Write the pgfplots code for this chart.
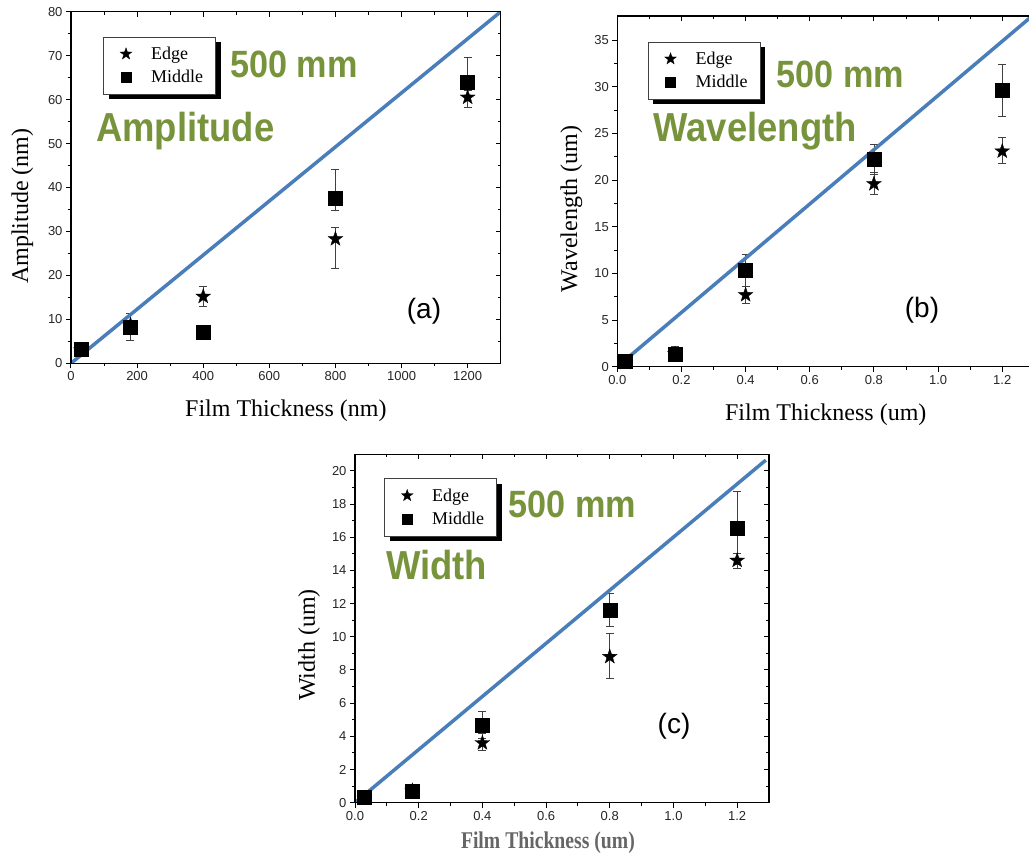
\documentclass[border=0pt]{standalone}
\usepackage{fontspec}
\setmainfont{Liberation Serif}
\setsansfont{Liberation Sans}
\newfontface\greenfont{Liberation Sans Bold}[FakeStretch=0.9]
\usepackage{pgfplots}
\pgfplotsset{compat=1.18}
\usepackage{pgfplotstable}
\usetikzlibrary{shadows,plotmarks}
\definecolor{olivegreen}{HTML}{77933C}
\definecolor{lineblue}{HTML}{4A7EBB}

\pgfdeclareplotmark{fstar}{%
  \pgfpathmoveto{\pgfpointpolar{90}{\pgfplotmarksize}}%
  \pgfpathlineto{\pgfpointpolar{126}{0.40*\pgfplotmarksize}}%
  \pgfpathlineto{\pgfpointpolar{162}{\pgfplotmarksize}}%
  \pgfpathlineto{\pgfpointpolar{198}{0.40*\pgfplotmarksize}}%
  \pgfpathlineto{\pgfpointpolar{234}{\pgfplotmarksize}}%
  \pgfpathlineto{\pgfpointpolar{270}{0.40*\pgfplotmarksize}}%
  \pgfpathlineto{\pgfpointpolar{306}{\pgfplotmarksize}}%
  \pgfpathlineto{\pgfpointpolar{342}{0.40*\pgfplotmarksize}}%
  \pgfpathlineto{\pgfpointpolar{18}{\pgfplotmarksize}}%
  \pgfpathlineto{\pgfpointpolar{54}{0.40*\pgfplotmarksize}}%
  \pgfpathclose
  \pgfusepathqfillstroke}

\newcommand\tickfont{\sffamily\fontsize{13pt}{15pt}\selectfont}
\newcommand\labelfont{\rmfamily\fontsize{24pt}{28pt}\selectfont}
\newcommand\legfont{\rmfamily\fontsize{18pt}{20pt}\selectfont}

\pgfplotstableread{
x y ep em
30 3.0 1.6 1.0
180 8.7 1.0 1.0
400 15.2 2.4 2.3
800 28.3 2.6 6.7
1200 60.5 1.5 2.2
}\aEdge
\pgfplotstableread{
x y ep em
30 3.2 1.0 1.0
180 8.2 3.2 3.0
400 7.0 0.5 0.5
800 37.5 6.6 2.8
1200 64.0 5.7 5.7
}\aMid
\pgfplotstableread{
x y ep em
0.025 0.43 0.3 0.3
0.18 1.36 0.8 0.6
0.4 7.7 0.9 0.9
0.8 19.6 1.2 1.1
1.2 23.1 1.5 1.3
}\bEdge
\pgfplotstableread{
x y ep em
0.025 0.54 0.3 0.3
0.18 1.3 0.5 0.5
0.4 10.3 1.7 1.7
0.8 22.2 1.6 1.6
1.2 29.6 2.8 2.8
}\bMid
\pgfplotstableread{
x y ep em
0.03 0.26 0.3 0.2
0.18 0.72 0.4 0.3
0.4 3.6 0.55 0.45
0.8 8.8 1.4 1.3
1.2 14.6 0.45 0.45
}\cEdge
\pgfplotstableread{
x y ep em
0.03 0.36 0.3 0.3
0.18 0.7 0.3 0.3
0.4 4.7 0.8 0.8
0.8 11.6 1.0 1.0
1.2 16.55 2.2 2.2
}\cMid

\pgfplotsset{
  panel/.style={scale only axis, anchor=south west,
    axis line style={line width=1.2pt, black},
    major tick length=5pt, minor tick length=3pt,
    every tick/.style={black, line width=1pt},
    every minor tick/.style={black, line width=0.9pt},
    minor x tick num=1, minor y tick num=1,
    tick label style={font=\tickfont, text=black!85},
    /pgf/number format/assume math mode=true,
    /pgf/number format/1000 sep={}},
  mainpanel/.style={panel, tick pos=left, tick align=outside,
    label style={font=\labelfont},
    legend cell align=left,
    legend style={anchor=north west, draw=black!75, line width=0.6pt, fill=white,
      font=\legfont, inner xsep=10.5pt, inner ysep=8pt, row sep=5.4pt,
      drop shadow={shadow xshift=5pt, shadow yshift=-5pt, fill=black, opacity=1},
      /tikz/every odd column/.append style={column sep=5pt}}},
  overpanel/.style={panel, tick pos=right, tick align=inside, xticklabels={}, yticklabels={}},
  decx/.style={xticklabel style={/pgf/number format/.cd, fixed, fixed zerofill, precision=1}},
  myleg/.style={legend image code/.code={%
      \pgfpathmoveto{\pgfqpoint{0pt}{0pt}}\pgfpathmoveto{\pgfqpoint{30pt}{0pt}}\pgfusepath{discard}%
      \draw[##1] plot coordinates {(12pt,0pt)};}},
  edge/.style={black, only marks, mark=fstar, mark size=7.8pt,
    mark options={fill=black, draw=black, line width=0.3pt},
    myleg, legend image post style={mark size=6.2pt},
    error bars/.cd, y dir=both, y explicit,
    error bar style={line width=0.8pt, black!75},
    error mark options={rotate=90, mark size=4pt, line width=0.8pt, black!75}},
  mid/.style={black, only marks, mark=square*, mark size=7pt,
    mark options={fill=black, draw=black},
    myleg, legend image post style={mark size=5pt},
    error bars/.cd, y dir=both, y explicit,
    error bar style={line width=0.8pt, black!75},
    error mark options={rotate=90, mark size=4pt, line width=0.8pt, black!75}},
  fitline/.style={lineblue, line width=3.5pt, no marks, forget plot},
}

\begin{document}
\begin{tikzpicture}
\useasboundingbox (0,0) rectangle (1029pt,860pt);
\clip (0,0) rectangle (1029pt,860pt);

% ---------- (a) ----------
\begin{axis}[mainpanel, at={(71pt,496.7pt)}, width=429.7pt, height=351.6pt,
  xmin=0, xmax=1300, ymin=0, ymax=80,
  xtick={0,200,...,1200}, ytick={0,10,...,80},
  xlabel={Film Thickness (nm)}, ylabel={Amplitude (nm)},
  xlabel style={at={(axis description cs:0.5,-0.134)}, anchor=center},
  ylabel style={at={(axis description cs:-0.113,0.447)}, anchor=center},
  legend style={at={(0.075,0.929)}}]
\addplot[edge] table[x=x,y=y,y error plus=ep,y error minus=em] {\aEdge};
\addlegendentry{Edge}
\addplot[mid] table[x=x,y=y,y error plus=ep,y error minus=em] {\aMid};
\addlegendentry{Middle}
\addplot[fitline] coordinates {(0,0) (1300,80)};
\end{axis}
\begin{axis}[overpanel, at={(71pt,496.7pt)}, width=429.7pt, height=351.6pt,
  xmin=0, xmax=1300, ymin=0, ymax=80,
  xtick={0,200,...,1200}, ytick={0,10,...,80}]
\end{axis}

% ---------- (b) ----------
\begin{axis}[mainpanel, decx, at={(617.3pt,493.3pt)}, width=417pt, height=350.7pt,
  xmin=0, xmax=1.3, ymin=0, ymax=37.6,
  xtick={0,0.2,...,1.21}, ytick={0,5,...,35},
  xlabel={Film Thickness (um)}, ylabel={Wavelength (um)},
  xlabel style={at={(axis description cs:0.5,-0.137)}, anchor=center},
  ylabel style={at={(axis description cs:-0.110,0.45)}, anchor=center},
  legend style={at={(0.073,0.927)}}]
\addplot[edge] table[x=x,y=y,y error plus=ep,y error minus=em] {\bEdge};
\addlegendentry{Edge}
\addplot[mid] table[x=x,y=y,y error plus=ep,y error minus=em] {\bMid};
\addlegendentry{Middle}
\addplot[fitline] coordinates {(0,0) (1.3,37.8)};
\end{axis}
\begin{axis}[overpanel, at={(617.3pt,493.3pt)}, width=417pt, height=350.7pt,
  xmin=0, xmax=1.3, ymin=0, ymax=37.6,
  xtick={0,0.2,...,1.21}, ytick={0,5,...,35}]
\end{axis}

% ---------- (c) ----------
\begin{axis}[mainpanel, decx, at={(355pt,57.3pt)}, width=414pt, height=348.4pt,
  xmin=0, xmax=1.3, ymin=0, ymax=21,
  xtick={0,0.2,...,1.21}, ytick={0,2,...,20},
  xlabel={\scalebox{0.82}[1]{\bfseries\color{black!60}Film Thickness (um)}}, ylabel={Width (um)},
  xlabel style={at={(axis description cs:0.466,-0.115)}, anchor=center},
  ylabel style={at={(axis description cs:-0.111,0.453)}, anchor=center},
  legend style={at={(0.071,0.931)}}]
\addplot[edge] table[x=x,y=y,y error plus=ep,y error minus=em] {\cEdge};
\addlegendentry{Edge}
\addplot[mid] table[x=x,y=y,y error plus=ep,y error minus=em] {\cMid};
\addlegendentry{Middle}
\addplot[fitline] coordinates {(0,0) (1.29,20.65)};
\end{axis}
\begin{axis}[overpanel, at={(355pt,57.3pt)}, width=414pt, height=348.4pt,
  xmin=0, xmax=1.3, ymin=0, ymax=21,
  xtick={0,0.2,...,1.21}, ytick={0,2,...,20}]
\end{axis}

% ---------- annotations ----------
\tikzset{gtext/.style={anchor=base west, inner sep=0pt, text=olivegreen}}
\node[gtext, font={\fontsize{38pt}{40pt}\greenfont}] at (230pt,782.7pt) {500 mm};
\node[gtext, font={\fontsize{40.5pt}{42pt}\greenfont}] at (96pt,718.3pt) {Amplitude};
\node[gtext, font={\fontsize{38pt}{40pt}\greenfont}] at (776.7pt,772.7pt) {500 mm};
\node[gtext, font={\fontsize{40.5pt}{42pt}\greenfont}] at (653.3pt,718.3pt) {Wavelength};
\node[gtext, font={\fontsize{38pt}{40pt}\greenfont}] at (508.3pt,342.7pt) {500 mm};
\node[gtext, font={\fontsize{40.5pt}{42pt}\greenfont}] at (386pt,280pt) {Width};

\node[font={\sffamily\fontsize{28pt}{30pt}\selectfont}] at (424pt,548.3pt) {(a)};
\node[font={\sffamily\fontsize{28pt}{30pt}\selectfont}] at (922pt,550pt) {(b)};
\node[font={\sffamily\fontsize{28pt}{30pt}\selectfont}] at (674pt,133.3pt) {(c)};
\end{tikzpicture}
\end{document}
